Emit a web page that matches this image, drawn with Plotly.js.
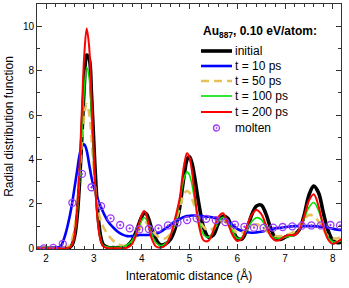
<!DOCTYPE html>
<html>
<head>
<meta charset="utf-8">
<script src="https://cdn.plot.ly/plotly-3.0.1.min.js"></script>
<style>html,body{margin:0;padding:0;background:#fff;}#chart{width:349px;height:288px;}</style>
</head>
<body>
<div id="chart"></div>
<script>
// Shared x grid (Å) for the simulated curves
const distance = [1.8, 2.0, 2.2, 2.3, 2.4,
  2.5, 2.55, 2.6, 2.65, 2.7, 2.75, 2.8, 2.85, 2.9, 2.95,
  3.0, 3.05, 3.1, 3.15, 3.2,
  3.3, 3.4, 3.5, 3.6, 3.7, 3.8, 3.9,
  3.95, 4.0, 4.05, 4.1, 4.15, 4.2,
  4.3, 4.4, 4.5, 4.6, 4.7, 4.8,
  4.85, 4.9, 4.95, 5.0, 5.05, 5.1,
  5.2, 5.3, 5.4, 5.5, 5.6, 5.7, 5.8, 5.9,
  6.0, 6.1, 6.2, 6.3, 6.4, 6.5, 6.6, 6.7, 6.8, 6.9,
  7.0, 7.1, 7.2, 7.3, 7.4, 7.5, 7.6, 7.7, 7.8, 7.9,
  8.0, 8.1, 8.2];

const gInitial = [0, 0, 0, 0, 0.01,
  0.05, 0.18, 0.57, 1.42, 2.97, 5.1, 7.35, 8.7, 8.55, 6.95,
  4.67, 2.6, 1.2, 0.46, 0.15,
  0.04, 0.03, 0.03, 0.05, 0.12, 0.35, 0.85,
  1.15, 1.42, 1.58, 1.55, 1.3, 0.95,
  0.4, 0.15, 0.2, 0.4, 0.9, 1.9,
  2.7, 3.45, 4.0, 4.12, 3.85, 3.3,
  1.95, 0.9, 0.5, 0.6, 1.1, 1.45, 1.35, 0.85,
  0.45, 0.42, 0.85, 1.5, 1.9, 1.95, 1.55, 0.9, 0.45, 0.4,
  0.5, 0.6, 0.63, 0.85, 1.5, 2.4, 2.8, 2.5, 1.6, 0.8,
  0.35, 0.25, 0.3];

const g10ps = [0, 0, 0.02, 0.08, 0.6,
  1.5, 2.1, 2.8, 3.5, 4.2, 4.6, 4.68, 4.4, 3.8, 3.2,
  2.75, 2.4, 2.1, 1.85, 1.6,
  1.2, 0.95, 0.75, 0.62, 0.55, 0.55, 0.58,
  0.6, 0.6, 0.6, 0.6, 0.6, 0.62,
  0.65, 0.75, 0.9, 1.05, 1.22, 1.32,
  1.38, 1.42, 1.45, 1.47, 1.48, 1.48,
  1.46, 1.44, 1.42, 1.38, 1.33, 1.27, 1.2, 1.05,
  0.88, 0.78, 0.72, 0.7, 0.72, 0.75, 0.8, 0.85, 0.9, 0.93,
  0.96, 0.98, 1.0, 1.0, 1.0, 1.0, 1.0, 0.98, 0.96, 0.93,
  0.88, 0.84, 0.82];

const g50ps = [0, 0, 0, 0.01, 0.05,
  0.15, 0.45, 1.0, 2.0, 3.35, 4.85, 6.05, 6.5, 6.1, 5.0,
  3.4, 2.3, 1.6, 1.2, 0.95,
  0.6, 0.35, 0.2, 0.12, 0.15, 0.3, 0.6,
  0.85, 1.05, 1.2, 1.15, 1.0, 0.85,
  0.6, 0.45, 0.45, 0.65, 1.15, 1.85,
  2.25, 2.5, 2.58, 2.5, 2.25, 1.95,
  1.3, 0.95, 0.8, 0.9, 1.15, 1.25, 1.1, 0.85,
  0.7, 0.7, 0.85, 1.0, 1.08, 1.0, 0.8, 0.65, 0.55, 0.55,
  0.6, 0.65, 0.75, 0.95, 1.3, 1.5, 1.45, 1.2, 0.85, 0.55,
  0.45, 0.45, 0.5];

const g100ps = [0, 0, 0, 0, 0.01,
  0.06, 0.22, 0.64, 1.55, 3.1, 5.2, 7.15, 8.15, 7.7, 6.0,
  3.9, 2.1, 0.93, 0.35, 0.12,
  0.06, 0.05, 0.05, 0.07, 0.15, 0.35, 0.75,
  1.0, 1.25, 1.38, 1.3, 1.05, 0.7,
  0.25, 0.12, 0.22, 0.55, 1.2, 2.15,
  2.8, 3.25, 3.44, 3.3, 2.9, 2.3,
  1.2, 0.6, 0.5, 0.75, 1.2, 1.4, 1.2, 0.75,
  0.45, 0.5, 0.85, 1.2, 1.38, 1.3, 0.95, 0.6, 0.45, 0.45,
  0.5, 0.55, 0.6, 0.85, 1.35, 1.85, 2.06, 1.7, 1.0, 0.5,
  0.3, 0.3, 0.35];

const g200ps = [0, 0, 0, 0, 0,
  0.05, 0.2, 0.67, 1.75, 3.67, 6.3, 8.75, 9.9, 9.1, 6.8,
  4.15, 2.05, 0.83, 0.27, 0.08,
  0.01, 0, 0, 0, 0.03, 0.2, 0.75,
  1.15, 1.5, 1.68, 1.5, 1.0, 0.5,
  0.08, 0.03, 0.15, 0.55, 1.35, 2.3,
  3.2, 3.9, 4.28, 4.1, 3.5, 2.6,
  1.0, 0.35, 0.35, 0.8, 1.4, 1.58, 1.15, 0.6,
  0.33, 0.45, 1.0, 1.5, 1.73, 1.55, 1.05, 0.55, 0.35, 0.4,
  0.55, 0.6, 0.6, 0.85, 1.45, 2.15, 2.43, 1.9, 1.0, 0.4,
  0.2, 0.3, 0.45];

// Molten reference points
const moltenDistance = [1.95, 2.15, 2.35, 2.55, 2.75, 2.95, 3.15, 3.35, 3.55, 3.75,
  3.95, 4.15, 4.35, 4.55, 4.75, 4.95, 5.15, 5.35, 5.55, 5.75,
  5.95, 6.15, 6.35, 6.55, 6.75, 6.95, 7.15, 7.35, 7.55, 7.75,
  7.95, 8.15];
const gMolten = [0.0, 0.02, 0.2, 2.05, 3.35, 2.75, 1.9, 1.35, 1.05, 0.9,
  0.85, 0.87, 0.9, 1.03, 1.16, 1.27, 1.35, 1.33, 1.27, 1.18,
  1.07, 0.97, 0.93, 0.92, 0.93, 0.96, 0.99, 1.02, 1.03, 1.03,
  1.05, 1.03];

const seriesNames = ['initial', 't = 10 ps', 't = 50 ps', 't = 100 ps', 't = 200 ps', 'molten'];
const legendTitle = '<b>Au<sub>887</sub>, 0.10 eV/atom:</b>';
const xTickVals = [2, 3, 4, 5, 6, 7, 8];
const yTickVals = [0, 2, 4, 6, 8, 10];

const FONT = 'Liberation Sans, Arial, sans-serif';
const styles = [
  {color: '#000000', width: 3.6, dash: 'solid'},
  {color: '#0000ff', width: 2.6, dash: 'solid'},
  {color: '#e6c15a', width: 2.6, dash: '8px,5px'},
  {color: '#00e000', width: 1.6, dash: 'solid'},
  {color: '#ff0000', width: 2.0, dash: 'solid'}
];
const moltenColor = '#9b3cf5';

const curveData = [gInitial, g10ps, g50ps, g100ps, g200ps];
const traces = curveData.map((ys, i) => ({
  type: 'scatter', mode: 'lines', x: distance, y: ys, name: seriesNames[i],
  line: {color: styles[i].color, width: styles[i].width, dash: styles[i].dash, shape: 'spline', smoothing: 1},
  showlegend: false, hoverinfo: 'skip'
}));
traces.push({
  type: 'scatter', mode: 'markers', x: moltenDistance, y: gMolten, name: seriesNames[5],
  marker: {symbol: 'circle-open-dot', size: 7, color: moltenColor, line: {width: 1.3, color: moltenColor}},
  showlegend: false, hoverinfo: 'skip'
});

// Plot-area geometry in page pixels (for the hand-drawn legend)
const W = 349, H = 288, mL = 37, mR = 8, mT = 4, mB = 39;
const pw = W - mL - mR, ph = H - mT - mB;
const px2x = p => (p - mL) / pw;
const px2y = p => (H - mB - p) / ph;

const legendRowsY = [51, 66, 81, 96, 112, 128];
const shapes = [];
const annotations = [{
  xref: 'paper', yref: 'paper', x: px2x(201), y: px2y(32), xanchor: 'left', yanchor: 'middle',
  text: legendTitle, showarrow: false, font: {family: FONT, size: 12, color: '#000'}
}];
for (let i = 0; i < 5; i++) {
  shapes.push({type: 'line', xref: 'paper', yref: 'paper',
    x0: px2x(201), x1: px2x(232), y0: px2y(legendRowsY[i]), y1: px2y(legendRowsY[i]),
    line: {color: styles[i].color, width: styles[i].width, dash: styles[i].dash}});
}
shapes.push({type: 'circle', xref: 'paper', yref: 'paper',
  x0: px2x(213.5), x1: px2x(219.5), y0: px2y(131), y1: px2y(125),
  line: {color: moltenColor, width: 1.3}});
shapes.push({type: 'circle', xref: 'paper', yref: 'paper',
  x0: px2x(215.8), x1: px2x(217.2), y0: px2y(128.7), y1: px2y(127.3),
  fillcolor: moltenColor, line: {color: moltenColor, width: 0.5}});
for (let i = 0; i < 6; i++) {
  annotations.push({xref: 'paper', yref: 'paper', x: px2x(233), y: px2y(legendRowsY[i]),
    xanchor: 'left', yanchor: 'middle', text: seriesNames[i], showarrow: false,
    font: {family: FONT, size: 12, color: '#000'}});
}

const axisCommon = {
  showgrid: false, zeroline: false, showline: true, linecolor: '#333', linewidth: 1,
  mirror: 'allticks', ticks: 'inside', ticklen: 5, tickwidth: 1, tickcolor: '#333',
  tickfont: {family: FONT, size: 10, color: '#000'}
};

const layout = {
  width: W, height: H,
  margin: {l: mL, r: mR, t: mT, b: mB, pad: 0},
  paper_bgcolor: '#fff', plot_bgcolor: '#fff',
  font: {family: FONT, color: '#000'},
  showlegend: false,
  xaxis: Object.assign({}, axisCommon, {
    range: [1.81, 8.17], tickvals: xTickVals, ticktext: xTickVals.map(String),
    minor: {dtick: 0.2, tick0: 0, ticks: 'inside', ticklen: 3, tickcolor: '#333', showgrid: false},
    title: {text: 'Interatomic distance (Å)', font: {family: FONT, size: 12, color: '#000'}, standoff: 8}
  }),
  yaxis: Object.assign({}, axisCommon, {
    range: [-0.03, 11.0], tickvals: yTickVals, ticktext: yTickVals.map(String),
    minor: {dtick: 1, tick0: 0, ticks: 'inside', ticklen: 3, tickcolor: '#333', showgrid: false},
    title: {text: 'Radial distribution function', font: {family: FONT, size: 12, color: '#000'}, standoff: 6}
  }),
  shapes: shapes,
  annotations: annotations
};

Plotly.newPlot('chart', traces, layout, {staticPlot: true, displayModeBar: false});
</script>
</body>
</html>
